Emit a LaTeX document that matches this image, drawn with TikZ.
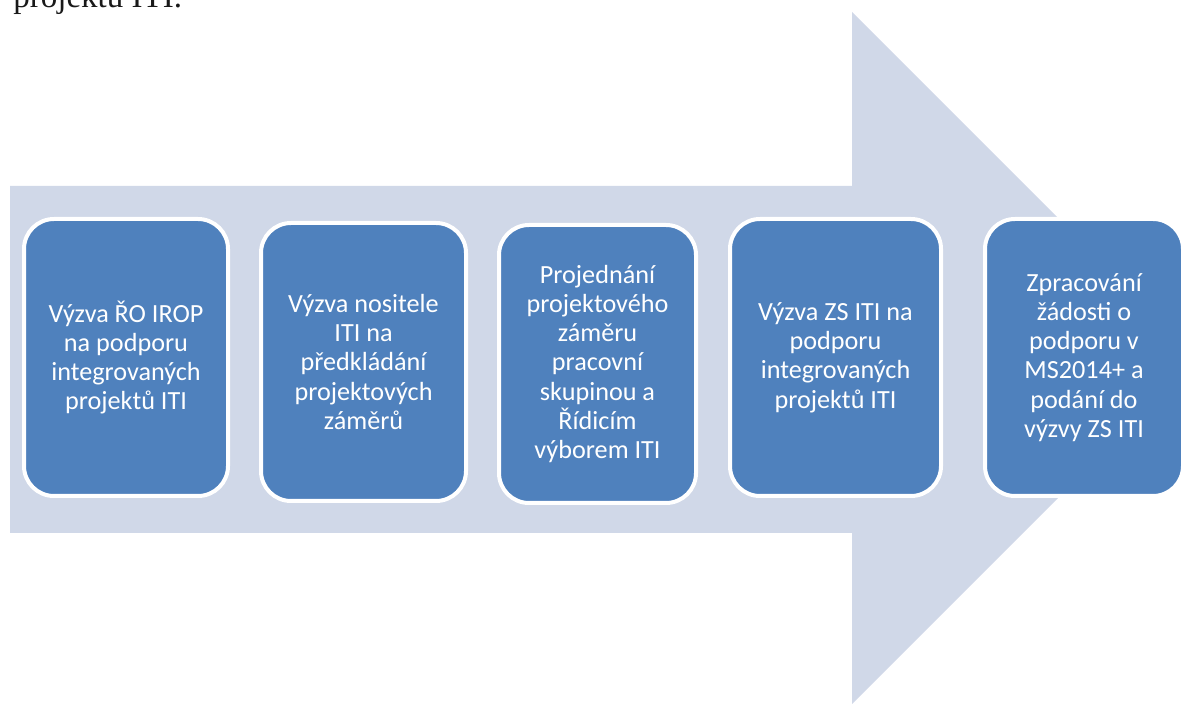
\documentclass[tikz,border=0pt]{standalone}
\usepackage{fontspec}
\usepackage{xcolor}
\setmainfont{Liberation Serif}
\newfontfamily\boxfont{Carlito}

\definecolor{arrowbg}{HTML}{D0D8E8}
\definecolor{stageblue}{HTML}{4F81BD}

\tikzset{
  stagebox/.style={rectangle, rounded corners=15pt, fill=stageblue, draw=white,
    line width=2pt, text=white, align=center, inner sep=2pt,
    font=\boxfont\fontsize{13.1pt}{14.6pt}\selectfont},
}

\begin{document}
\begin{tikzpicture}[x=0.5pt, y=-0.5pt]
  \useasboundingbox (0,0) rectangle (1187,704);
  \clip (0,0) rectangle (1187,704);

  % text of the page above the picture
  \node[anchor=base west, inner sep=0pt, text=black!90,
        font=\fontsize{16.5pt}{18pt}\selectfont] (caption) at (13,8) {projektu ITI.};

  % big arrow in the background (tip hidden behind the last stage)
  \fill[arrowbg] (10,186) -- (852,186) -- (852,12) -- (1180,340) -- (1180,376)
    -- (852,704) -- (852,533) -- (10,533) -- cycle;

  % the five stages
  \node[stagebox, minimum width=102pt, minimum height=138.5pt] (s1) at (126,357.5)
    {Výzva ŘO IROP\\ na podporu\\ integrovaných\\ projektů ITI};
  \node[stagebox, minimum width=102.5pt, minimum height=139pt] (s2) at (363.5,362)
    {Výzva nositele\\ ITI na\\ předkládání\\ projektových\\ záměrů};
  \node[stagebox, minimum width=98.5pt, minimum height=139pt] (s3) at (597.5,364)
    {Projednání\\ projektového\\ záměru\\ pracovní\\ skupinou a\\ Řídicím\\ výborem ITI};
  \node[stagebox, minimum width=105.5pt, minimum height=138.5pt] (s4) at (835.5,357.5)
    {Výzva ZS ITI na\\ podporu\\ integrovaných\\ projektů ITI};
  \node[stagebox, minimum width=99pt, minimum height=138.5pt] (s5) at (1084,357.5)
    {Zpracování\\ žádosti o\\ podporu v\\ MS2014+ a\\ podání do\\ výzvy ZS ITI};
\end{tikzpicture}
\end{document}
